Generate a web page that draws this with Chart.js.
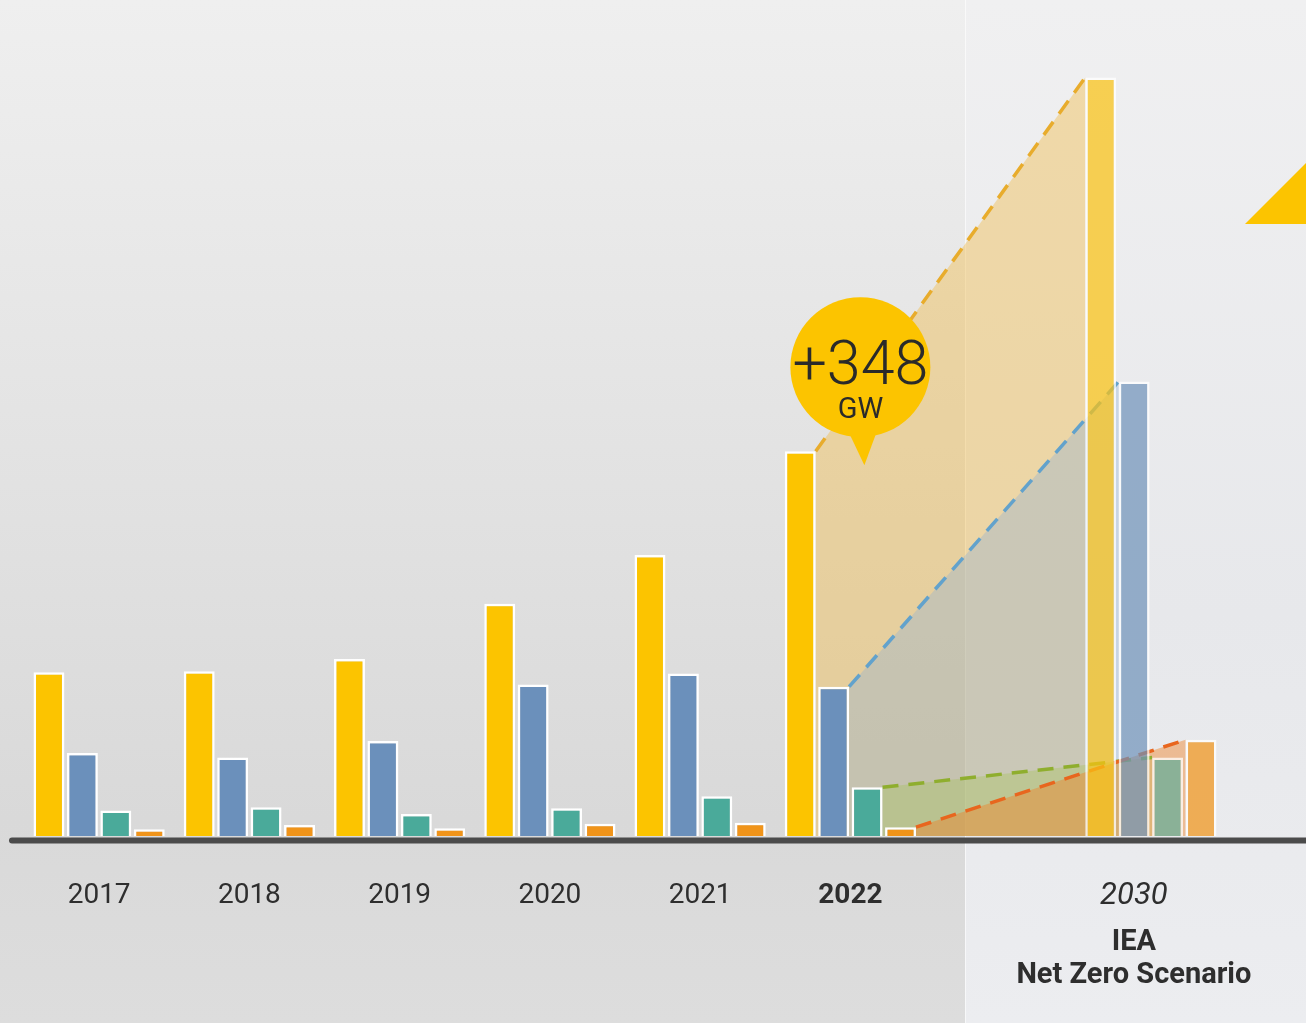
<!DOCTYPE html>
<html>
<head>
<meta charset="utf-8">
<title>Capacity additions 2017-2022 and 2030</title>
<script src="https://cdn.jsdelivr.net/npm/chart.js@4/dist/chart.umd.min.js"></script>
<style>
  html, body { margin: 0; padding: 0; background: #e4e4e4; }
  #wrap { width: 1306px; height: 1023px; }
</style>
</head>
<body>
<div id="wrap"><canvas id="chart" width="1306" height="1023"></canvas></div>
<script>
// ===========================
// Data
// ===========================
const years = ["2017", "2018", "2019", "2020", "2021", "2022", "", "2030"];
const yellowVals = [148, 149, 160, 210, 254, 348, null, 686];
const blueVals   = [75, 71, 86, 137, 147, 135, null, 411];
const tealVals   = [23, 26, 20, 25, 36, 44, null, 71];
const orangeVals = [6, 10, 7, 11, 12, 8, null, 87];
const yMax = 756;
const bubbleText = "+348";
const bubbleUnit = "GW";
const scenarioLines = ["IEA", "Net Zero Scenario"];

// ===========================
// Colours
// ===========================
const solid  = ["#fcc400", "#6b90bb", "#4aaa9a", "#f0941a"];
const faded  = ["rgba(250,194,20,0.72)", "rgba(110,145,185,0.7)", "rgba(74,170,154,0.6)", "rgba(240,148,26,0.72)"];
const fills  = ["rgba(240,185,70,0.42)", "rgba(140,175,215,0.35)", "rgba(160,195,70,0.30)", "rgba(240,130,40,0.45)"];
const dashes = ["#e8ac2c", "#62a2cc", "#8fae2e", "#e8661e"];
const FUTURE = 7; // index of 2030
const LAST = 5;   // index of 2022

function barColor(i) {
    return ctx => ctx.dataIndex === FUTURE ? faded[i] : solid[i];
}

// ===========================
// Plugins
// ===========================
const backdrop = {
    id: "backdrop",
    beforeDraw(chart) {
        const c = chart.ctx;
        const W = chart.width, H = chart.height;
        let g = c.createLinearGradient(0, 0, 0, H);
        g.addColorStop(0, "#efefef");
        g.addColorStop(0.8, "#d9d9d9");
        g.addColorStop(1, "#dddddd");
        c.save();
        c.fillStyle = g;
        c.fillRect(0, 0, W, H);
        // scenario panel
        const px = 965;
        g = c.createLinearGradient(0, 0, 0, H);
        g.addColorStop(0, "#f0f0f1");
        g.addColorStop(0.6, "#e7e8eb");
        g.addColorStop(1, "#ecedf0");
        c.fillStyle = g;
        c.fillRect(px, 0, W - px, H);
        c.fillStyle = "rgba(255,255,255,0.6)";
        c.fillRect(px, 0, 1, H);
        // corner marker
        c.fillStyle = "#fcc400";
        c.beginPath();
        c.moveTo(1245, 224);
        c.lineTo(W, 224);
        c.lineTo(W, 163);
        c.closePath();
        c.fill();
        c.restore();
    }
};

const bridges = {
    id: "bridges",
    beforeDatasetsDraw(chart) {
        const c = chart.ctx;
        const base = chart.scales.y.getPixelForValue(0);
        c.save();
        chart.data.datasets.forEach((ds, i) => {
            const a = chart.getDatasetMeta(i).data[LAST];
            const b = chart.getDatasetMeta(i).data[FUTURE];
            const x1 = a.x + a.width / 2, y1 = a.y;
            const x2 = b.x - b.width / 2, y2 = b.y;
            c.fillStyle = fills[i];
            c.beginPath();
            c.moveTo(x1, base);
            c.lineTo(x1, y1);
            c.lineTo(x2, y2);
            c.lineTo(x2, base);
            c.closePath();
            c.fill();
        });
        chart.data.datasets.forEach((ds, i) => {
            const a = chart.getDatasetMeta(i).data[LAST];
            const b = chart.getDatasetMeta(i).data[FUTURE];
            c.strokeStyle = dashes[i];
            c.lineWidth = 3.5;
            c.setLineDash([16, 10]);
            c.beginPath();
            c.moveTo(a.x + a.width / 2, a.y);
            c.lineTo(b.x - b.width / 2, b.y);
            c.stroke();
        });
        c.restore();
    }
};

const labelsAndNotes = {
    id: "labelsAndNotes",
    afterDraw(chart) {
        const c = chart.ctx;
        const xs = chart.scales.x;
        const base = chart.scales.y.getPixelForValue(0);
        c.save();
        // baseline
        c.strokeStyle = "#4b4b4b";
        c.lineWidth = 6;
        c.lineCap = "round";
        c.beginPath();
        c.moveTo(12, base + 4.5);
        c.lineTo(chart.width + 10, base + 4.5);
        c.stroke();

        // category labels
        c.fillStyle = "#2e2e2e";
        c.textAlign = "center";
        c.textBaseline = "middle";
        years.forEach((y, i) => {
            if (!y) return;
            let x = xs.getPixelForValue(i);
            if (i === FUTURE) {
                x -= 17;
                c.font = "italic 31px Roboto";
            } else if (i === LAST) {
                c.font = "bold 28px Roboto";
            } else {
                c.font = "28px Roboto";
            }
            c.fillText(y, x, 896);
            if (i === FUTURE) {
                c.font = "bold 29px Roboto";
                c.fillText(scenarioLines[0], x, 943);
                c.fillText(scenarioLines[1], x, 976);
            }
        });

        // callout bubble on the 2022 group
        const bar = chart.getDatasetMeta(0).data[LAST];
        const bx = xs.getPixelForValue(LAST) + 10, by = bar.y - 84;
        c.fillStyle = "#fcc400";
        c.beginPath();
        c.arc(bx, by, 70, 0, Math.PI * 2);
        c.fill();
        c.beginPath();
        c.moveTo(bx - 14, by + 60);
        c.lineTo(bx + 18, by + 60);
        c.lineTo(bx + 4, by + 98);
        c.closePath();
        c.fill();
        c.fillStyle = "#2a2a2a";
        c.font = "300 61px Roboto";
        c.fillText(bubbleText, bx, by + 2);
        c.font = "29px Roboto";
        c.fillText(bubbleUnit, bx, by + 44);
        c.restore();
    }
};

// ===========================
// Chart
// ===========================
const ctx = document.getElementById("chart").getContext("2d");
const common = { borderColor: ctx2 => ctx2.dataIndex === FUTURE ? "rgba(255,255,255,0.75)" : "#ffffff", borderWidth: 2.5, borderSkipped: "bottom" };

new Chart(ctx, {
    type: "bar",
    data: {
        labels: years,
        datasets: [
            { label: "Yellow", data: yellowVals, backgroundColor: barColor(0), ...common },
            { label: "Blue", data: blueVals, backgroundColor: barColor(1), ...common },
            { label: "Teal", data: tealVals, backgroundColor: barColor(2), ...common },
            { label: "Orange", data: orangeVals, backgroundColor: barColor(3), ...common }
        ]
    },
    options: {
        responsive: false,
        animation: false,
        layout: { padding: { left: 24, right: 80, top: 0, bottom: 187 } },
        datasets: { bar: { categoryPercentage: 0.89, barPercentage: 0.925 } },
        plugins: { legend: { display: false }, tooltip: { enabled: false } },
        scales: {
            x: { display: false, offset: true },
            y: { display: false, min: 0, max: yMax }
        }
    },
    plugins: [backdrop, bridges, labelsAndNotes]
});
</script>
</body>
</html>
